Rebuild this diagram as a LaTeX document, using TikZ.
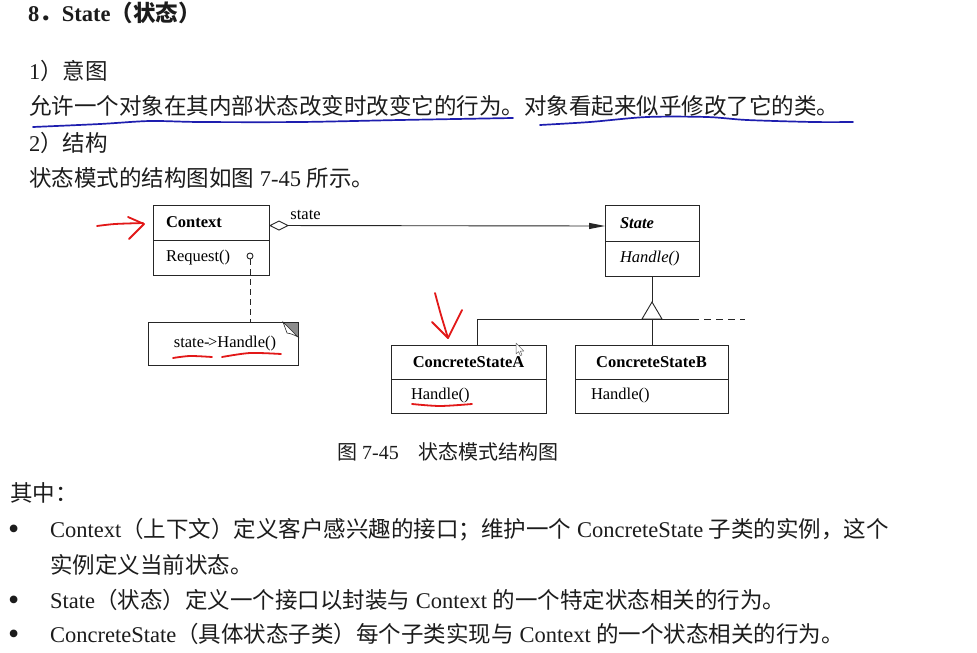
\documentclass[tikz,border=0pt]{standalone}
\usepackage{fontspec}
\setmainfont{Liberation Serif}
\newfontfamily\cjk{Noto Sans CJK SC}
\usepackage{xcolor}
\usetikzlibrary{arrows.meta, positioning, calc}
\newcommand{\zh}[1]{{\cjk #1}}
\definecolor{inkBlue}{RGB}{30,30,175}
\definecolor{inkRed}{RGB}{226,24,24}
\definecolor{txtDark}{RGB}{28,28,28}
\tikzset{
  bodyTxt/.style={anchor=base west, inner sep=0pt, text=txtDark,
                  font=\fontsize{22.5}{26}\selectfont},
  titleTxt/.style={bodyTxt, font=\fontsize{22.5}{26}\selectfont\bfseries},
  capTxt/.style={bodyTxt, font=\fontsize{20}{24}\selectfont},
  bulTxt/.style={bodyTxt, font=\fontsize{32}{32}\selectfont},
  umlLine/.style={draw=black!85, line width=0.9pt},
  umlBox/.style={umlLine, outer sep=0pt, inner ysep=0pt, text=black,
                 font=\fontsize{16.5}{19}\selectfont},
  umlHead/.style={umlBox, font=\fontsize{16.5}{19}\selectfont\bfseries},
  leftBox/.style 2 args={text width=#1, inner xsep=#2, align=left},
  noteBox/.style={umlBox, minimum width=150pt, minimum height=43pt,
                  anchor=north west},
  dotMark/.style={circle, umlLine, fill=white, inner sep=0pt,
                  minimum size=6pt},
  roleTxt/.style={inner sep=0pt, text=black,
                  font=\fontsize{16.5}{19}\selectfont},
  aggrLine/.style={umlLine, {Diamond[open,length=20pt,width=10pt]}-{Triangle[length=16pt,width=6pt]}},
  dashPat/.style={dash pattern=on 7pt off 5pt},
  bluePen/.style={draw=inkBlue, line width=1.7pt, line cap=round},
  redPen/.style={draw=inkRed, line width=1.8pt, line cap=round, line join=round},
}
\begin{document}
\begin{tikzpicture}[x=1pt, y=-1pt]
    \useasboundingbox[fill=white] (0,0) rectangle (977,653);
    %% Heading and intent
    \node[titleTxt] (title) at (28,21.5) {8\zh{．}State\zh{（状态）}};
    \node[bodyTxt] (intentHd) at (29,79.5) {1\zh{）意图}};
    \node[bodyTxt] (intent) at (29,114.5)
      {\zh{允许一个对象在其内部状态改变时改变它的行为。对象看起来似乎修改了它的类。}};
    \node[bodyTxt] (structHd) at (29,151.5) {2\zh{）结构}};
    \node[bodyTxt] (structTxt) at (29,186.5) {\zh{状态模式的结构图如图} 7-45 \zh{所示。}};
    %% Blue underlines
    \draw[bluePen] plot[smooth] coordinates {(33,127) (100,124) (150,121) (200,122)
                                           (300,122) (400,120) (513,118)};
    \draw[bluePen] plot[smooth] coordinates {(540,125) (590,122) (647,117) (707,117)
                                           (747,120) (813,122) (853,122)};
    %% Context class
    \node[umlHead, leftBox={90pt}{13pt}, minimum height=35pt, anchor=north west]
      (ctxHead) at (153,205) {Context};
    \node[umlBox, leftBox={90pt}{13pt}, minimum height=35pt, below=0pt of ctxHead]
      (ctxBody) {Request()};
    \node[dotMark] (reqDot) at (250,256) {};
    %% Note
    \node[noteBox] (note) at (148,322) {\kern4pt state-\kern-1.5pt>Handle()};
    \fill[black!45] ($(note.north east)+(-15,0)$) -- (note.north east)
      -- ($(note.north east)+(0,15)$) -- cycle;
    \draw[umlLine, line width=0.6pt, fill=white] ($(note.north east)+(-15,0)$)
      .. controls ($(note.north east)+(-13,6)$) .. ($(note.north east)+(-11,11)$)
      .. controls ($(note.north east)+(-6,12)$) .. ($(note.north east)+(0,15)$)
      -- cycle;
    \draw[umlLine] (note.north west) rectangle (note.south east);
    \draw[umlLine, dash pattern=on 6pt off 4pt] (reqDot.south) -- (reqDot.south |- note.north);
    %% State class
    \node[umlHead, leftBox={64pt}{15pt}, minimum height=36pt, anchor=north west,
          font=\fontsize{16.5}{19}\selectfont\bfseries\itshape]
      (stHead) at (605,205) {State};
    \node[umlBox, leftBox={64pt}{15pt}, minimum height=35pt, below=0pt of stHead,
          font=\fontsize{16.5}{19}\selectfont\itshape]
      (stBody) {Handle()};
    %% Concrete states
    \node[umlHead, minimum width=155pt, minimum height=34pt, anchor=north west]
      (csaHead) at (391,345) {ConcreteStateA};
    \node[umlBox, leftBox={115pt}{20pt}, minimum height=34pt, below=0pt of csaHead]
      (csaBody) {Handle()};
    \node[umlHead, minimum width=153pt, minimum height=34pt, anchor=north west]
      (csbHead) at (575,345) {ConcreteStateB};
    \node[umlBox, leftBox={121pt}{16pt}, minimum height=34pt, below=0pt of csbHead]
      (csbBody) {Handle()};
    %% Aggregation
    \draw[aggrLine] ([yshift=-3pt]ctxHead.east) --
      node[roleTxt, pos=0, anchor=base west, xshift=21pt, yshift=6pt] (roleLbl) {state}
      ([yshift=-3pt]stHead.west);
    %% Inheritance
    \coordinate (apex) at ($(stBody.south)+(0,26)$);
    \coordinate (barMid) at ($(apex)+(0,17)$);
    \coordinate (barL) at ($(barMid)+(-175,0)$);
    \coordinate (barR) at ($(barMid)+(40,0)$);
    \coordinate (barEnd) at ($(barMid)+(93,0)$);
    \draw[umlLine] (stBody.south) -- (apex);
    \draw[umlLine, line join=miter] (apex) -- ++(-10,17) -- ++(20,0) -- cycle;
    \draw[umlLine] (barL) -- (barR);
    \draw[umlLine, dashPat] (barR) -- (barEnd);
    \draw[umlLine] (barL) -- (barL |- csaHead.north);
    \draw[umlLine] (barMid) -- (barMid |- csbHead.north);
    %% Mouse pointer
    \draw[black!60, fill=white, line width=0.5pt, line join=round]
      (516,343) -- (516,354) -- (518.6,351.6) -- (520.4,355.6) -- (522,354.9)
      -- (520.3,351) -- (523.8,351) -- cycle;
    %% Red pen marks
    \draw[redPen] plot[smooth] coordinates {(97,226) (115,224) (143,223)};
    \draw[redPen] (128,217) -- (144,224) -- (129,239);
    \draw[redPen] plot[smooth] coordinates {(173,358) (190,356) (212,357)};
    \draw[redPen] plot[smooth] coordinates {(222,357) (250,353) (281,354)};
    \draw[redPen] plot[smooth] coordinates {(435,293) (441,315) (448,338)};
    \draw[redPen] (432,322) -- (448,338) -- (462,310);
    \draw[redPen] plot[smooth] coordinates {(412,404) (440,406) (472,404)};
    %% Caption
    \node[capTxt] (figCap) at (337,459.5) {\zh{图} 7-45\zh{　状态模式结构图}};
    %% Participants
    \node[bodyTxt] (whereHd) at (10,501) {\zh{其中：}};
    \foreach \n/\yy in {1/539, 3/610, 4/644}{
      \node[bulTxt] (bul\n) at (8,\yy) {\textbullet};
    }
    \node[bodyTxt] (ctxDesc) at (50,537)
      {Context\zh{（上下文）定义客户感兴趣的接口；维护一个} ConcreteState \zh{子类的实例，这个}};
    \node[bodyTxt] (ctxDescB) at (50,573) {\zh{实例定义当前状态。}};
    \node[bodyTxt] (stDesc) at (50,608)
      {State\zh{（状态）定义一个接口以封装与} Context \zh{的一个特定状态相关的行为。}};
    \node[bodyTxt] (csDesc) at (50,642)
      {ConcreteState\zh{（具体状态子类）每个子类实现与} Context \zh{的一个状态相关的行为。}};
  \end{tikzpicture}
\end{document}
